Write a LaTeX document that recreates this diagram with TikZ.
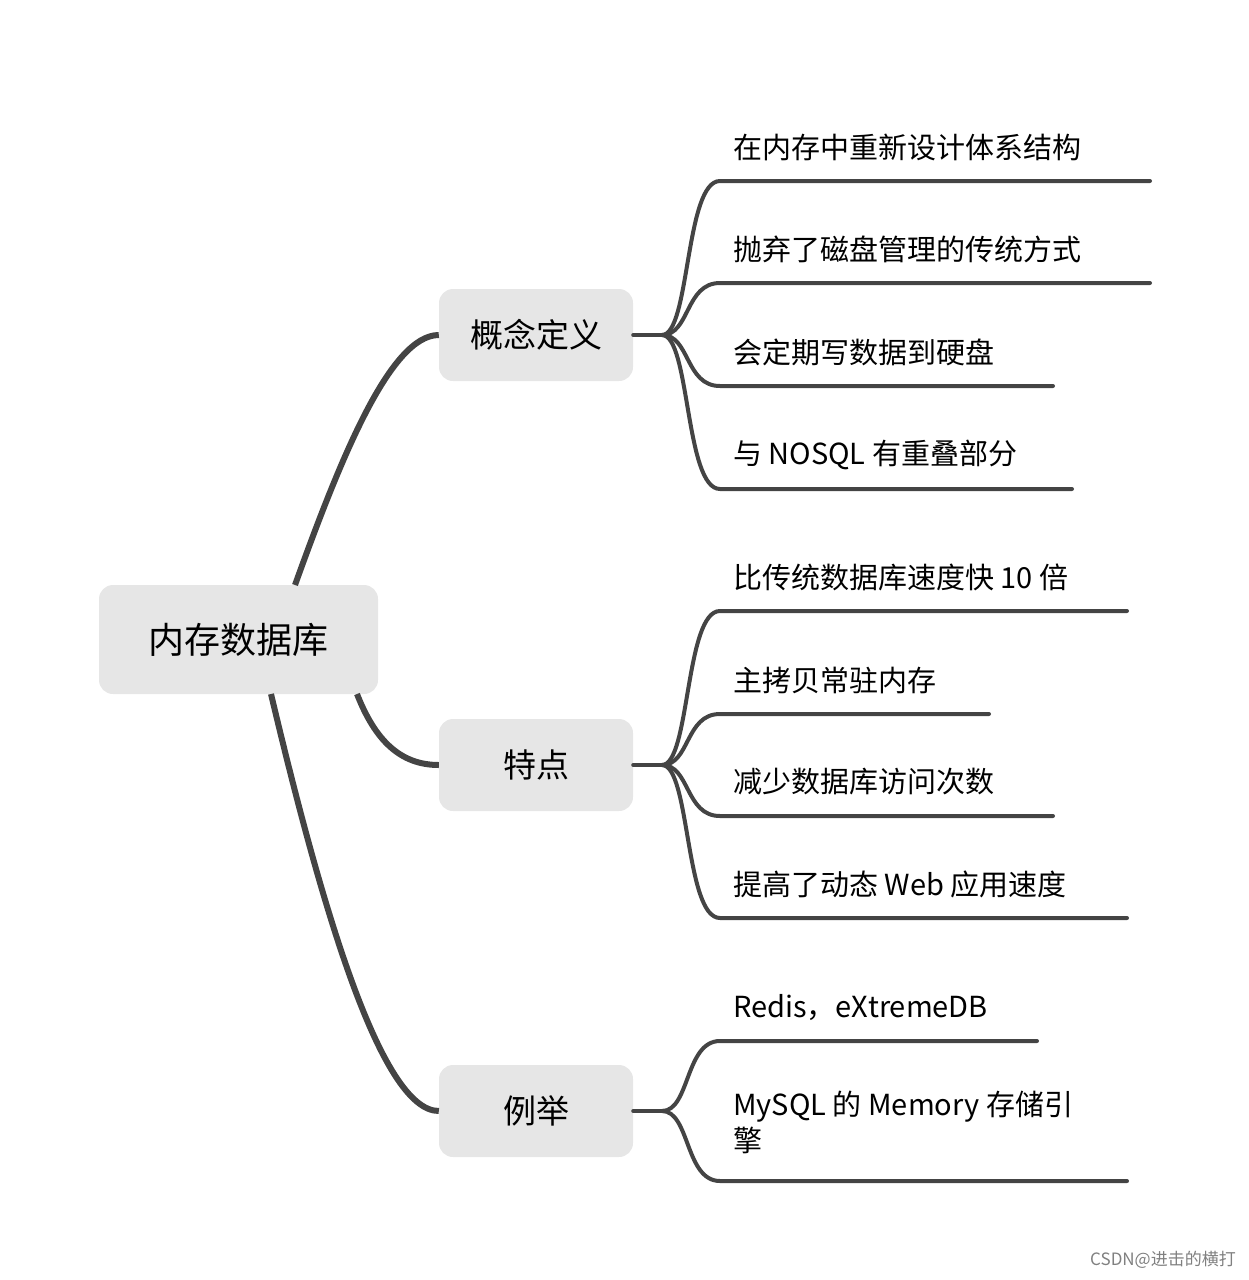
\documentclass[tikz,border=0pt]{standalone}
\usepackage{fontspec}
\setmainfont{Noto Sans CJK SC}
\begin{document}
\begin{tikzpicture}[x=1pt,y=-1pt,
 box/.style={fill=boxgray,rounded corners=14pt,inner sep=0pt},
 lvl1/.style={line width=6pt,draw=linegray},
 lvl2/.style={line width=4pt,draw=linegray,line cap=round},
 lab/.style={anchor=west,font=\fontsize{29}{35}\selectfont,inner sep=0pt}]
\definecolor{boxgray}{HTML}{E6E6E6}
\definecolor{linegray}{HTML}{444444}
\useasboundingbox (0,0) rectangle (1248,1280);
\node[box,minimum width=279pt,minimum height=109pt,font=\fontsize{36}{40}\selectfont] (root) at (238.5,639.5) {内存数据库};
\node[box,minimum width=194pt,minimum height=92pt,font=\fontsize{33}{38}\selectfont] (a) at (536,335) {概念定义};
\node[box,minimum width=194pt,minimum height=92pt,font=\fontsize{33}{38}\selectfont] (b) at (536,765) {特点};
\node[box,minimum width=194pt,minimum height=92pt,font=\fontsize{33}{38}\selectfont] (c) at (536,1111) {例举};
\coordinate (r1) at (295,585);
\coordinate (r2) at (357,694);
\coordinate (r3) at (271,694);
\draw[lvl1] (r1) .. controls (340,460) and (390,335) .. (a.west);
\draw[lvl1] (r2) .. controls (375,740) and (400,765) .. (b.west);
\draw[lvl1] (r3) .. controls (320,900) and (380,1111) .. (c.west);
\foreach \n/\cy in {a/335,b/765,c/1111}{
  \coordinate (\n j) at (662,\cy);
  \draw[lvl2] (\n.east) -- (\n j);
}
\foreach \n/\cy/\ly/\ex/\t [count=\i] in {
 a/335/181/1150/在内存中重新设计体系结构,
 a/335/283/1150/抛弃了磁盘管理的传统方式,
 a/335/386/1053/会定期写数据到硬盘,
 a/335/489/1072/与 NOSQL 有重叠部分,
 b/765/611/1127/比传统数据库速度快 10 倍,
 b/765/714/989/主拷贝常驻内存,
 b/765/816/1053/减少数据库访问次数,
 b/765/918/1127/提高了动态 Web 应用速度,
 c/1111/1041/1037/{Redis，eXtremeDB}}{
  \coordinate (s\i) at (720,\ly);
  \coordinate (e\i) at (\ex,\ly);
  \draw[lvl2] (\n j) .. controls (690,\cy) and (685,\ly) .. (s\i) -- (e\i);
  \node[lab] (t\i) at (733,\ly-34) {\t};
}
\coordinate (s10) at (720,1181);
\coordinate (e10) at (1127,1181);
\draw[lvl2] (cj) .. controls (690,1111) and (685,1181) .. (s10) -- (e10);
\node[lab,anchor=north west,align=left,font=\fontsize{29}{36}\selectfont] (t10) at (733,1091) {MySQL 的 Memory 存储引\\擎};
\node[anchor=east,font=\fontsize{17}{20}\selectfont,text=gray,inner sep=0pt] (wm) at (1236,1260) {CSDN@进击的横打};
\end{tikzpicture}
\end{document}
